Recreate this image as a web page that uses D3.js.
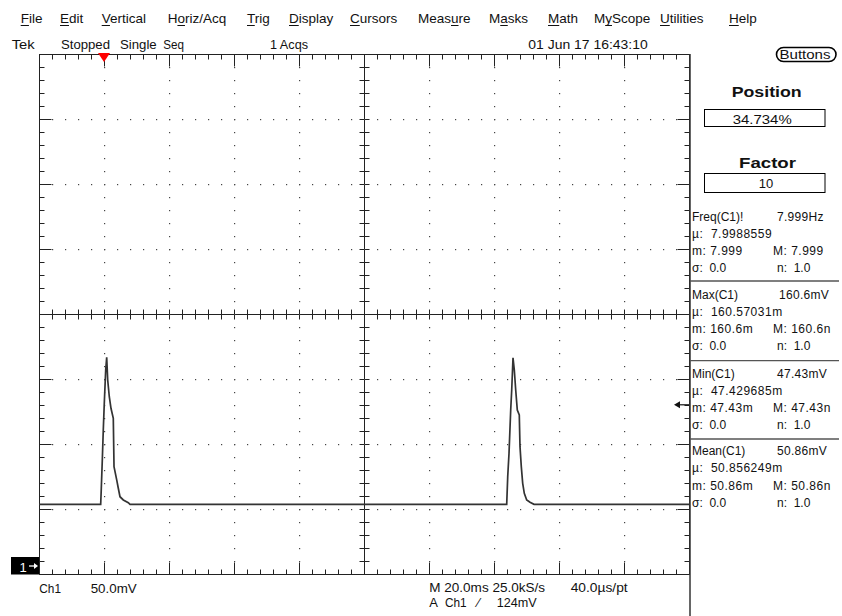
<!DOCTYPE html>
<html>
<head>
<meta charset="utf-8">
<script src="https://cdn.jsdelivr.net/npm/d3@7/dist/d3.min.js"></script>
<style>
  html, body { margin: 0; padding: 0; background: #fff; }
  svg { display: block; }
  text { font-family: "Liberation Sans", Arial, sans-serif; fill: #111; white-space: pre; }
</style>
</head>
<body>
<svg id="chart" width="842" height="616"></svg>
<script>
// ---------------- DATA ----------------
// Channel 1 trace: time relative to trigger (ms) and voltage (mV)
const traceTime = [-20, -1.02, -0.83, -0.52, -0.22, 0.09, 0.52, 0.83, 1.14, 1.63, 2.15, 2.86, 3.08, 3.91, 4.40, 4.92, 5.94, 7.48, 8.0,
  123.91, 124.22, 124.62, 125.14, 125.45, 125.85, 126.25, 126.68, 127.17, 127.78, 128.0, 128.4, 128.83, 129.32, 130.06, 131.08, 132.31, 180];
const traceMv = [47.43, 47.43, 59.8, 81.5, 104.6, 125.2, 150.8, 160.6, 143.1, 130.2, 121.3, 113.6, 76.4, 66.2, 59.8, 53.3, 50.8, 48.7, 47.43,
  47.43, 68.7, 86.7, 120, 135.4, 160.2, 150.8, 135.4, 120, 116.2, 91.8, 76.4, 63.6, 55.9, 50.8, 49.0, 47.43, 47.43];

const timePerDiv = 20;      // ms/div
const voltsPerDiv = 50;     // mV/div
const triggerLevel = 124;   // mV

const menuItems = ["File", "Edit", "Vertical", "Horiz/Acq", "Trig", "Display", "Cursors", "Measure", "Masks", "Math", "MyScope", "Utilities", "Help"];
const menuUnderline = [0, 0, 0, 1, 0, 0, 0, 4, 1, 0, 1, 0, 0];
const statusItems = ["Tek", "Stopped", "Single", "Seq", "1 Acqs", "01 Jun 17 16:43:10"];

const measNames = ["Freq(C1)!", "Max(C1)", "Min(C1)", "Mean(C1)"];
const measValues = ["7.999Hz", "160.6mV", "47.43mV", "50.86mV"];
const measMu = ["7.9988559", "160.57031m", "47.429685m", "50.856249m"];
const measMin = ["7.999", "160.6m", "47.43m", "50.86m"];
const measMax = ["7.999", "160.6n", "47.43n", "50.86n"];
const measSigma = ["0.0", "0.0", "0.0", "0.0"];
const measN = ["1.0", "1.0", "1.0", "1.0"];

const positionValue = "34.734%";
const factorValue = "10";
const bottomRow1 = ["Ch1", "50.0mV", "M 20.0ms 25.0kS/s", "40.0\u00B5s/pt"];
const bottomRow2 = ["A", "Ch1", "\u2044", "124mV"];

// ---------------- LAYOUT ----------------
const L = 39, R = 689, T = 54, B = 574;
const nDivX = 10, nDivY = 8;
const menuX = [20.7, 60, 101.7, 167.7, 247, 289, 350, 418, 489, 548, 594, 660, 729];
const statusX = [11.7, 61, 120, 163.3, 270, 528.3];
const statusW = [23, 49, 36.7, 20.7, 38, 119.4];

const svg = d3.select("#chart");

// scales
const x = d3.scaleLinear().domain([-timePerDiv, (nDivX - 1) * timePerDiv]).range([L, R]);
const yMin = -((B - 566) / ((B - T) / nDivY)) * voltsPerDiv;
const y = d3.scaleLinear().domain([yMin, yMin + nDivY * voltsPerDiv]).range([B, T]);
const gx = d3.scaleLinear().domain([0, nDivX]).range([L, R]);
const gy = d3.scaleLinear().domain([0, nDivY]).range([T, B]);

function txt(parent, xx, yy, s, opts = {}) {
  const t = parent.append("text").attr("x", xx).attr("y", yy).text(s)
    .style("font-size", (opts.size || 12) + "px");
  if (opts.weight) t.style("font-weight", opts.weight);
  if (opts.anchor) t.attr("text-anchor", opts.anchor);
  if (opts.width) t.attr("textLength", opts.width).attr("lengthAdjust", "spacingAndGlyphs");
  if (opts.fill) t.style("fill", opts.fill);
  if (opts.ls) t.style("letter-spacing", opts.ls + "px");
  return t;
}

// ---------------- MENU BAR ----------------
const menuG = svg.append("g");
menuItems.forEach((m, i) => {
  const t = txt(menuG, menuX[i], 23, m, { size: 13.5 });
  const node = t.node();
  const u = menuUnderline[i];
  let x0 = menuX[i], w = 7;
  try {
    x0 = node.getStartPositionOfChar(u).x;
    w = node.getSubStringLength(u, 1);
  } catch (e) {}
  menuG.append("line").attr("x1", x0).attr("x2", x0 + w).attr("y1", 25.5).attr("y2", 25.5)
    .attr("stroke", "#111").attr("stroke-width", 1);
});

// status row
statusItems.forEach((s, i) => txt(svg, statusX[i], 49, s, { size: 13, width: statusW[i] }));

// ---------------- GRATICULE ----------------
const grat = svg.append("g").attr("transform", "translate(0.5,0.5)")
  .attr("stroke", "#222").attr("stroke-width", 1).attr("fill", "none");
grat.append("rect").attr("x", L).attr("y", T).attr("width", R - L).attr("height", B - T);

const minorX = d3.range(0, nDivX * 5 + 1).map(i => gx(i / 5));
const minorY = d3.range(0, nDivY * 5 + 1).map(j => gy(j / 5));

// edge ticks
minorX.forEach((xx, i) => {
  if (i === 0 || i === minorX.length - 1) return;
  const len = i % 5 === 0 ? 12 : 5;
  grat.append("line").attr("x1", xx).attr("x2", xx).attr("y1", T).attr("y2", T + len);
  grat.append("line").attr("x1", xx).attr("x2", xx).attr("y1", B).attr("y2", B - len);
});
minorY.forEach((yy, j) => {
  if (j === 0 || j === minorY.length - 1) return;
  const len = j % 5 === 0 ? 12 : 5;
  grat.append("line").attr("x1", L).attr("x2", L + len).attr("y1", yy).attr("y2", yy);
  grat.append("line").attr("x1", R).attr("x2", R - len).attr("y1", yy).attr("y2", yy);
});

// centre cross
const cx = gx(nDivX / 2), cy = gy(nDivY / 2);
grat.append("line").attr("x1", cx).attr("x2", cx).attr("y1", T).attr("y2", B);
grat.append("line").attr("x1", L).attr("x2", R).attr("y1", cy).attr("y2", cy);
minorX.forEach(xx => grat.append("line").attr("x1", xx).attr("x2", xx).attr("y1", cy - 5).attr("y2", cy + 5));
minorY.forEach(yy => grat.append("line").attr("x1", cx - 5).attr("x2", cx + 5).attr("y1", yy).attr("y2", yy));

// dotted major lines
const dots = svg.append("g").attr("fill", "#444");
d3.range(1, nDivX).filter(k => k !== nDivX / 2).forEach(k => {
  const xx = gx(k);
  minorY.slice(1, -1).forEach(yy => dots.append("rect").attr("x", xx).attr("y", yy).attr("width", 1.2).attr("height", 1.2));
});
d3.range(1, nDivY).filter(k => k !== nDivY / 2).forEach(k => {
  const yy = gy(k);
  minorX.slice(1, -1).forEach(xx => dots.append("rect").attr("x", xx).attr("y", yy).attr("width", 1.2).attr("height", 1.2));
});

// ---------------- TRACE ----------------
svg.append("clipPath").attr("id", "clip").append("rect")
  .attr("x", L).attr("y", T).attr("width", R - L + 1).attr("height", B - T);
const pts = traceTime.map((t, i) => [t, traceMv[i]]);
const line = d3.line().x(d => x(d[0])).y(d => y(d[1]));
svg.append("path").datum(pts).attr("clip-path", "url(#clip)")
  .attr("d", line).attr("fill", "none").attr("stroke", "#333").attr("stroke-width", 1.7)
  .attr("stroke-linejoin", "miter");

// trigger position marker (red triangle)
const tx = x(0);
svg.append("path").attr("d", `M${tx - 6},${T - 1}L${tx + 6},${T - 1}L${tx},${T + 8}Z`).attr("fill", "#f00");

// trigger level arrow
const ty = y(triggerLevel);
svg.append("line").attr("x1", R).attr("x2", R - 12).attr("y1", ty).attr("y2", ty).attr("stroke", "#111").attr("stroke-width", 1.2);
svg.append("path").attr("d", `M${R - 15},${ty}L${R - 9},${ty - 3.5}L${R - 9},${ty + 3.5}Z`).attr("fill", "#111");

// ground marker
const gyv = y(0);
svg.append("rect").attr("x", 11).attr("y", 557).attr("width", 28).attr("height", B - 557 + 0.5).attr("fill", "#000");
txt(svg, 19.5, 572, "1", { size: 13, fill: "#fff" });
svg.append("line").attr("x1", 29).attr("x2", 35).attr("y1", gyv).attr("y2", gyv).attr("stroke", "#fff").attr("stroke-width", 1.3);
svg.append("path").attr("d", `M38,${gyv}L34,${gyv - 3}L34,${gyv + 3}Z`).attr("fill", "#fff");

// ---------------- BOTTOM READOUT ----------------
txt(svg, 39.3, 592.5, bottomRow1[0], { size: 13, width: 21.7 });
txt(svg, 90.7, 592.5, bottomRow1[1], { size: 13, width: 46 });
txt(svg, 429.3, 591.5, bottomRow1[2], { size: 13, width: 115.7 });
txt(svg, 570.7, 591.5, bottomRow1[3], { size: 13, width: 57 });
txt(svg, 429.3, 607, bottomRow2[0], { size: 13 });
txt(svg, 445, 607, bottomRow2[1], { size: 13, width: 21.7 });
txt(svg, 477.5, 607, bottomRow2[2], { size: 13 });
txt(svg, 496.7, 607, bottomRow2[3], { size: 13, width: 40 });

// ---------------- RIGHT PANEL ----------------
svg.append("line").attr("x1", 690).attr("x2", 690).attr("y1", T).attr("y2", 616).attr("stroke", "#333").attr("stroke-width", 1.5);

svg.append("rect").attr("x", 776.5).attr("y", 47.5).attr("width", 59.5).attr("height", 14).attr("rx", 7).attr("ry", 7)
  .attr("fill", "#fff").attr("stroke", "#000").attr("stroke-width", 1.6);
txt(svg, 779.5, 59, "Buttons", { size: 12, width: 51 });

txt(svg, 731.7, 97, "Position", { size: 14, weight: "bold", width: 70 });
svg.append("rect").attr("x", 704.5).attr("y", 109.5).attr("width", 120.5).attr("height", 17).attr("fill", "none").attr("stroke", "#000");
txt(svg, 732.7, 124, positionValue, { size: 12.5, width: 59 });

txt(svg, 739, 168, "Factor", { size: 14, weight: "bold", width: 57 });
svg.append("rect").attr("x", 704.5).attr("y", 173.5).attr("width", 120.5).attr("height", 19).attr("fill", "none").attr("stroke", "#000");
txt(svg, 766, 188, factorValue, { size: 13, anchor: "middle" });

const blockBase = [220.5, 298.5, 377.5, 455];
const lineOff = [0, 17.3, 34.5, 51.5];
const sepY = [281, 360.7, 439];
sepY.forEach(s => svg.append("line").attr("x1", 690).attr("x2", 839).attr("y1", s).attr("y2", s).attr("stroke", "#555").attr("stroke-width", 1.3));
measNames.forEach((nm, i) => {
  const b = blockBase[i];
  const fs = 12;
  txt(svg, 692, b + lineOff[0], nm, { size: fs });
  txt(svg, i === 1 ? 779 : 777, b + lineOff[0], measValues[i], { size: fs, ls: 0.3 });
  txt(svg, 692, b + lineOff[1], "\u00B5:  " + measMu[i], { size: fs, ls: 0.5 });
  txt(svg, 692, b + lineOff[2], "m: " + measMin[i], { size: fs, ls: 0.5 });
  txt(svg, 773, b + lineOff[2], "M: " + measMax[i], { size: fs, ls: 0.5 });
  txt(svg, 692, b + lineOff[3], "\u03C3:  " + measSigma[i], { size: fs });
  txt(svg, 777, b + lineOff[3], "n:  " + measN[i], { size: fs });
});
</script>
</body>
</html>
